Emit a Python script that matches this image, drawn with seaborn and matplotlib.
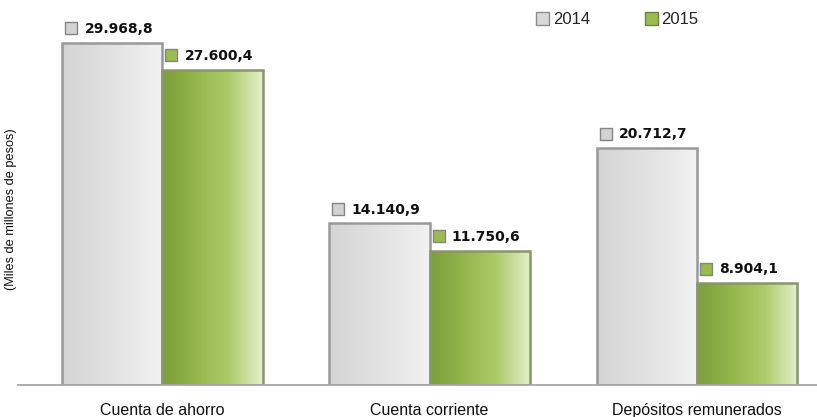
import numpy as np
import pandas as pd
import matplotlib
matplotlib.use('Agg')
import matplotlib.pyplot as plt
from matplotlib.colors import LinearSegmentedColormap
from matplotlib.patches import Patch
from matplotlib.transforms import offset_copy
import seaborn as sns

# Data
categories = ['Cuenta de ahorro', 'Cuenta corriente', 'Depósitos remunerados']
years = ['2014', '2015']
values_2014 = [29968.8, 14140.9, 20712.7]
values_2015 = [27600.4, 11750.6, 8904.1]

df = pd.DataFrame({
    'Categoria': categories * 2,
    'Año': [years[0]] * 3 + [years[1]] * 3,
    'Valor': values_2014 + values_2015,
})

sns.set_style('white')
plt.rcParams['font.family'] = ['Liberation Sans', 'DejaVu Sans']

fig = plt.figure(figsize=(8.17, 4.17), dpi=100)
ax = fig.add_axes([18 / 817, 32 / 417, 1 - 18 / 817, 1 - 32 / 417 - 8 / 417])

sns.barplot(data=df, x='Categoria', y='Valor', hue='Año', order=categories,
            hue_order=years, palette=['#e6e6e6', '#a4c45c'], width=0.75,
            legend=False, ax=ax)

# gradient fills
cmaps = {
    '2014': LinearSegmentedColormap.from_list('g14', ['#d4d4d4', '#e2e2e2', '#f2f2f2']),
    '2015': LinearSegmentedColormap.from_list('g15', ['#7c9d3b', '#94b64c', '#aecb6a', '#e4f0cb']),
}
edges = {'2014': '#999999', '2015': '#87966c'}
grad = np.linspace(0, 1, 256).reshape(1, -1)


def fmt(v):
    s = f'{v:,.1f}'
    return s.replace(',', 'X').replace('.', ',').replace('X', '.')


mk_colors = {'2014': '#d2d2d2', '2015': '#9cbb4f'}
for yr, cont in zip(years, ax.containers):
    for bar in cont:
        x0 = bar.get_x()
        w = bar.get_width()
        h = bar.get_height()
        im = ax.imshow(grad, extent=[x0, x0 + w, 0, h], aspect='auto',
                       cmap=cmaps[yr], zorder=1, interpolation='bicubic')
        im.set_clip_path(bar)
        bar.set_facecolor('none')
        bar.set_edgecolor(edges[yr])
        bar.set_linewidth(1.8)
        bar.set_zorder(2)
        cx = x0 + w / 2
        ax.annotate(fmt(h), (cx, h), xytext=(-20, 10), textcoords='offset points',
                    ha='left', va='center', fontsize=10, fontweight='bold',
                    family='DejaVu Sans', color='#111111')
        tr = offset_copy(ax.transData, fig=fig, x=-29.5, y=10.5, units='points')
        ax.scatter([cx], [h], marker='s', s=70, color=mk_colors[yr],
                   edgecolor='#858585', linewidth=1.0, transform=tr, zorder=5,
                   clip_on=False)

ax.set_xlim(-0.54, 2.45)
ax.set_ylim(0, 33000)
ax.set_yticks([])
ax.set_xlabel('')
ax.set_ylabel('')
ax.tick_params(axis='x', length=0, pad=13, labelsize=11.5, colors='#111111')
for s in ['top', 'right', 'left']:
    ax.spines[s].set_visible(False)
ax.spines['bottom'].set_color('#a6a6a6')
ax.spines['bottom'].set_linewidth(1.3)

fig.text(11 / 817, 1 - 209 / 417, '(Miles de millones de pesos)', rotation=90,
         ha='center', va='center', fontsize=9.2, color='#111111')

handles = [Patch(facecolor='#d8d8d8', edgecolor='#8c8c8c', label='2014'),
           Patch(facecolor='#9cbb4f', edgecolor='#6f7f4f', label='2015')]
fig.legend(handles=handles, loc='upper left', bbox_to_anchor=(536 / 817, 1 - 12 / 417),
           ncol=2, frameon=False, fontsize=12, handlelength=0.8, handleheight=0.8,
           handletextpad=0.2, columnspacing=3.3, borderpad=0, borderaxespad=0)

fig.savefig('out.png', dpi=100)
